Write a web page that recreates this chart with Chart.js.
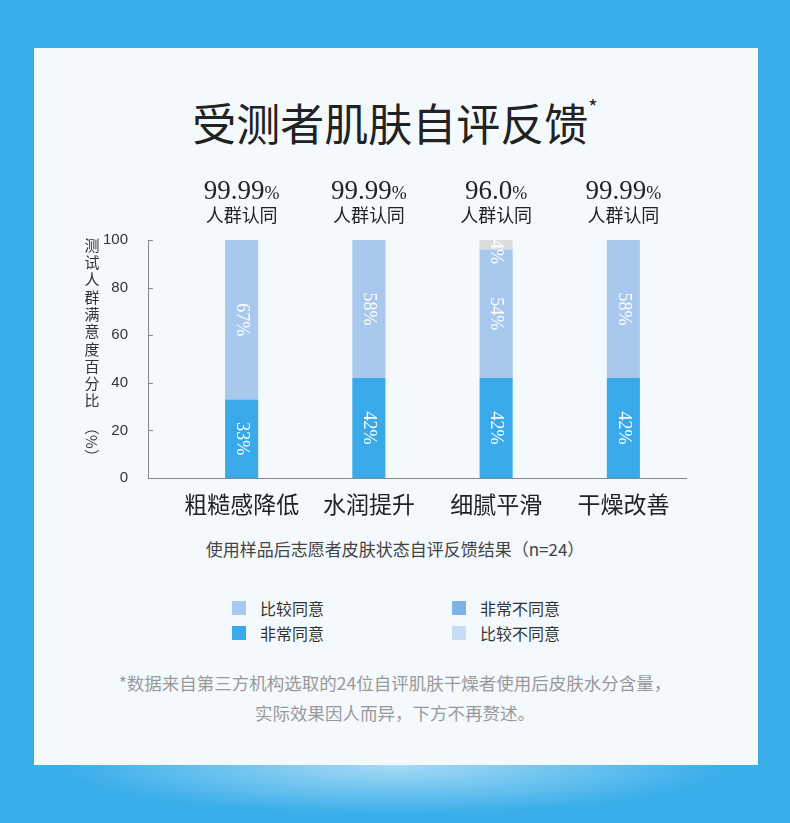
<!DOCTYPE html>
<html><head><meta charset="utf-8">
<script src="https://cdn.jsdelivr.net/npm/chart.js@4"></script>
<style>
body{margin:0;width:790px;height:823px;background:#3aaeea;font-family:"Noto Sans CJK SC",sans-serif;overflow:hidden;position:relative}
#card{position:absolute;left:34px;top:48px;width:724px;height:717px;background:#f4f9fd}
#glow{position:absolute;left:60px;top:765px;width:670px;height:50px;background:radial-gradient(ellipse at 50% 0%,rgba(255,255,255,0.55),rgba(255,255,255,0) 70%)}
canvas{position:absolute;left:0;top:0}
.t{position:absolute;white-space:nowrap}
.lg{position:absolute;font-size:16px;color:#333;display:flex;align-items:center}
.lg i{display:inline-block;width:14px;height:14px;margin-right:14px}
</style></head><body>
<div id="card"></div><div id="glow"></div>
<div class="t" style="left:0;width:790px;top:90px;text-align:center;font-size:44px;color:#222">受测者肌肤自评反馈<sup style="font-size:20px;position:relative;top:-10px">*</sup></div>
<div class="t" style="left:0;width:790px;top:536px;text-align:center;font-size:17px;color:#444">使用样品后志愿者皮肤状态自评反馈结果（n=24）</div>
<div class="lg" style="left:232px;top:596px"><i style="background:#a8c8ee"></i>比较同意</div>
<div class="lg" style="left:452px;top:596px"><i style="background:#7fb3e6"></i>非常不同意</div>
<div class="lg" style="left:232px;top:621px"><i style="background:#3aa9ea"></i>非常同意</div>
<div class="lg" style="left:452px;top:621px"><i style="background:#c8dcf5"></i>比较不同意</div>
<div class="t" style="left:0;width:790px;top:668px;text-align:center;font-size:17.5px;color:#999;line-height:30px">*数据来自第三方机构选取的24位自评肌肤干燥者使用后皮肤水分含量，<br>实际效果因人而异，下方不再赘述。</div>
<canvas id="c" width="790" height="823"></canvas>
<script>
const categories = ['粗糙感降低', '水润提升', '细腻平滑', '干燥改善'];
const veryAgree = [33, 42, 42, 42];
const agree = [67, 58, 54, 58];
const disagree = [0, 0, 4, 0];
const approval = ['99.99', '99.99', '96.0', '99.99'];
const yTicks = [0, 20, 40, 60, 80, 100];

const overlay = {
  id: 'overlay',
  afterDraw(chart) {
    const ctx = chart.ctx, x = chart.scales.x, y = chart.scales.y, a = chart.chartArea;
    ctx.save();
    ctx.strokeStyle = '#888'; ctx.lineWidth = 1;
    ctx.beginPath();
    ctx.moveTo(148.5, a.top); ctx.lineTo(148.5, a.bottom + 0.5); ctx.lineTo(a.right, a.bottom + 0.5);
    yTicks.forEach(v => { const py = Math.round(y.getPixelForValue(v)) + 0.5; ctx.moveTo(148, py); ctx.lineTo(153, py); });
    ctx.stroke();
    // y title, vertical characters
    ctx.fillStyle = '#333'; ctx.font = '15px "Noto Sans CJK SC"'; ctx.textAlign = 'center'; ctx.textBaseline = 'middle';
    '测试人群满意度百分比'.split('').forEach((ch, i) => ctx.fillText(ch, 92, 245 + i * 17.3));
    ctx.save(); ctx.translate(92, 442); ctx.rotate(Math.PI / 2); ctx.fillText('（%）', 0, 0); ctx.restore();
    // approval labels
    categories.forEach((c, i) => {
      const px = x.getPixelForValue(i);
      ctx.font = '27px "Liberation Serif"'; ctx.fillStyle = '#222';
      const w1 = ctx.measureText(approval[i]).width;
      ctx.font = '18px "Liberation Serif"';
      const w2 = ctx.measureText('%').width;
      ctx.textAlign = 'left'; ctx.textBaseline = 'alphabetic';
      ctx.font = '27px "Liberation Serif"'; ctx.fillText(approval[i], px - (w1 + w2) / 2, 199);
      ctx.font = '18px "Liberation Serif"'; ctx.fillText('%', px - (w1 + w2) / 2 + w1, 199);
      ctx.font = '18px "Noto Sans CJK SC"'; ctx.textAlign = 'center'; ctx.textBaseline = 'middle';
      ctx.fillText('人群认同', px, 215);
    });
    // segment labels
    ctx.fillStyle = '#fff'; ctx.font = '18px "Liberation Serif"';
    chart.data.datasets.forEach((ds, di) => {
      chart.getDatasetMeta(di).data.forEach((bar, i) => {
        if (!ds.data[i]) return;
        const cy = di === 2 ? bar.y + 12 : (bar.y + bar.base) / 2;
        ctx.save(); ctx.translate(bar.x, cy); ctx.rotate(Math.PI / 2);
        ctx.textAlign = 'center'; ctx.textBaseline = 'middle';
        ctx.fillText(ds.data[i] + '%', 0, 0); ctx.restore();
      });
    });
    ctx.restore();
  }
};

new Chart(document.getElementById('c'), {
  type: 'bar',
  data: {
    labels: categories,
    datasets: [
      { label: '非常同意', data: veryAgree, backgroundColor: '#3aa9ea' },
      { label: '比较同意', data: agree, backgroundColor: '#a8c8ee' },
      { label: '比较不同意', data: disagree, backgroundColor: '#dcdcdc' }
    ]
  },
  options: {
    responsive: false, animation: false,
    layout: { padding: { top: 240, bottom: 285, left: 0, right: 103 } },
    plugins: { legend: { display: false }, tooltip: { enabled: false } },
    datasets: { bar: { categoryPercentage: 1, barPercentage: 0.26 } },
    scales: {
      x: { stacked: true, grid: { display: false }, border: { display: false },
        ticks: { color: '#222', font: { size: 23, family: 'Noto Sans CJK SC' }, padding: 4 },
        afterFit: s => { s.height = 60; } },
      y: { stacked: true, min: 0, max: 100, grid: { display: false }, border: { display: false },
        afterBuildTicks: s => { s.ticks = yTicks.map(v => ({ value: v })); },
        ticks: { color: '#333', font: { size: 15, family: 'Liberation Sans' }, padding: 42 },
        afterFit: s => { s.width = 178; } }
    }
  },
  plugins: [overlay]
});
</script>
</body></html>
